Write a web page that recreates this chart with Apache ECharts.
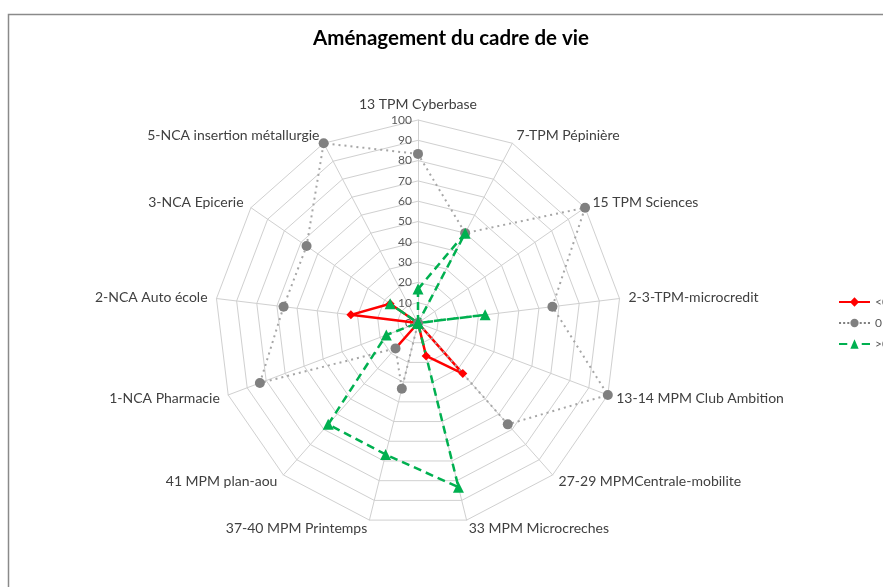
<!DOCTYPE html>
<html>
<head>
<meta charset="utf-8">
<script src="https://cdn.jsdelivr.net/npm/echarts@6/dist/echarts.min.js"></script>
<style>html,body{margin:0;padding:0;background:#fff;}#c{width:883px;height:587px;}</style>
</head>
<body>
<div id="c"></div>
<script>
// Indicators listed clockwise starting at the top
const categories = [
  "13 TPM Cyberbase", "7-TPM Pépinière", "15 TPM Sciences", "2-3-TPM-microcredit",
  "13-14 MPM Club Ambition", "27-29 MPMCentrale-mobilite", "33 MPM Microcreches",
  "37-40 MPM Printemps", "41 MPM plan-aou", "1-NCA Pharmacie", "2-NCA Auto école",
  "3-NCA Epicerie", "5-NCA insertion métallurgie"
];
const seriesNeg  = [0, 0, 0, 0, 0, 33.3, 16.7, 0, 16.7, 0, 33.3, 16.7, 0];
const seriesZero = [83.3, 50, 100, 66.7, 100, 66.7, 0, 33.3, 16.7, 83.3, 66.7, 66.7, 100];
const seriesPos  = [16.7, 50, 0, 33.3, 0, 0, 83.3, 66.7, 66.7, 16.7, 0, 16.7, 0];
const legendNames = ["<0", "0", ">0"];
const titleText = "Aménagement du cadre de vie";
const axisMin = 0, axisMax = 100, axisSplits = 10;

// ECharts places radar indicators counter-clockwise; reorder to get clockwise layout
const order = categories.map((_, i) => (i === 0 ? 0 : categories.length - i));
const reorder = arr => order.map(i => arr[i]);

const indicators = reorder(categories).map((name, k) => {
  const ind = { name: name, min: axisMin, max: axisMax };
  if (k === 0) ind.axisLabel = { show: true };
  return ind;
});

// legend icons: line sample with marker
const iconNeg = 'path://M0,4H11.5L15,0.5L18.5,4H30V6H18.5L15,9.5L11.5,6H0Z';
const iconZero = 'path://M0,4h2v2h-2Z M4,4h2v2h-2Z M8,4h2v2h-2Z M11,5A4,4 0 1,1 19,5A4,4 0 1,1 11,5Z M20,4h2v2h-2Z M24,4h2v2h-2Z M28,4h2v2h-2Z';
const iconPos = 'path://M0,4h8v2h-8Z M11,9.5L15,0.5L19,9.5Z M22,4h8v2h-8Z';

const chart = echarts.init(document.getElementById('c'), null, { renderer: 'canvas' });
chart.setOption({
  animation: false,
  backgroundColor: '#ffffff',
  graphic: [{
    type: 'rect', left: 6, top: 12, z: -1,
    shape: { width: 900, height: 600 },
    style: { fill: 'none', stroke: '#8a8a8a', lineWidth: 1.5 }
  }],
  title: {
    text: titleText, left: 308, top: 23,
    textStyle: { fontFamily: 'Lato', fontWeight: 'bold', fontSize: 20.5, color: '#000' }
  },
  legend: {
    orient: 'vertical', left: 834, top: 291, itemGap: 9,
    itemWidth: 31, itemHeight: 10,
    data: [
      { name: legendNames[0], icon: iconNeg },
      { name: legendNames[1], icon: iconZero },
      { name: legendNames[2], icon: iconPos }
    ],
    textStyle: { fontFamily: 'Lato', fontSize: 12, color: '#595959', overflow: 'none', width: 40 }
  },
  radar: {
    center: [418, 323], radius: 203, startAngle: 90,
    shape: 'polygon', splitNumber: axisSplits,
    indicator: indicators,
    nameGap: 9,
    axisName: { color: '#404040', fontFamily: 'Lato', fontSize: 14 },
    axisLine: { lineStyle: { color: '#d0d0d0', width: 1 } },
    splitLine: { lineStyle: { color: '#d0d0d0', width: 1 } },
    splitArea: { show: false },
    axisTick: { show: false },
    axisLabel: { show: false, color: '#595959', fontFamily: 'Lato', fontSize: 12, margin: 6 }
  },
  series: [{
    type: 'radar',
    data: [
      {
        name: legendNames[0], value: reorder(seriesNeg),
        symbol: 'diamond', symbolSize: 9,
        lineStyle: { color: '#ff0000', width: 2.5, type: 'solid' },
        itemStyle: { color: '#ff0000' }
      },
      {
        name: legendNames[1], value: reorder(seriesZero),
        symbol: 'circle', symbolSize: 10,
        lineStyle: { color: '#a6a6a6', width: 2, type: [2, 4] },
        itemStyle: { color: '#808080' }
      },
      {
        name: legendNames[2], value: reorder(seriesPos),
        symbol: 'triangle', symbolSize: 11,
        lineStyle: { color: '#00b050', width: 2.5, type: [8, 5] },
        itemStyle: { color: '#00b050' }
      }
    ]
  }]
});
</script>
</body>
</html>
